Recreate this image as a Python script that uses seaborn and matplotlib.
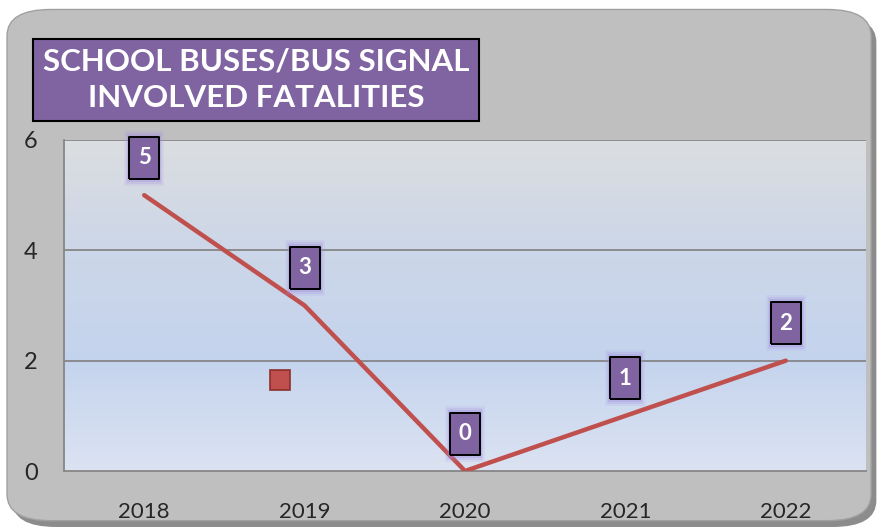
import numpy as np
import pandas as pd
import seaborn as sns
import matplotlib.pyplot as plt
from matplotlib.patches import FancyBboxPatch
from matplotlib.lines import Line2D
from matplotlib.transforms import ScaledTranslation

# chart data
years = ["2018", "2019", "2020", "2021", "2022"]
fatalities = [5, 3, 0, 1, 2]
y_ticks = [0, 2, 4, 6]
title = "SCHOOL BUSES/BUS SIGNAL\nINVOLVED FATALITIES"

df = pd.DataFrame({"Year": years, "Fatalities": fatalities})

sns.set_style("white")
plt.rcParams["font.family"] = ["Lato", "DejaVu Sans"]

fig = plt.figure(figsize=(8.79, 5.27), dpi=100)
fig.patch.set_facecolor("white")

# rounded gray chart area with a soft shadow
shadow = FancyBboxPatch((0.014, 0.0), 0.983, 0.97, boxstyle="round,pad=0,rounding_size=0.05",
                        transform=fig.transFigure, facecolor="#8c8c8c", edgecolor="none", zorder=-3)
panel = FancyBboxPatch((0.008, 0.012), 0.983, 0.97, boxstyle="round,pad=0,rounding_size=0.05",
                       transform=fig.transFigure, facecolor="#bfbfbf", edgecolor="#a0a0a0",
                       linewidth=1, zorder=-2)
fig.patches.extend([shadow, panel])

ax = fig.add_axes([64 / 879, 1 - 471 / 527, 802 / 879, 331 / 527])
ax.set_xlim(-0.5, len(years) - 0.5)
ax.set_ylim(0, 6)

# gradient plot-area fill
grad = np.array([[0.86, 0.87, 0.88], [0.80, 0.84, 0.91], [0.77, 0.83, 0.93], [0.86, 0.89, 0.95]])
t = np.linspace(0, 1, 200)
cols = np.stack([np.interp(t, np.linspace(0, 1, 4), grad[:, c]) for c in range(3)], axis=1)
ax.imshow(cols[:, None, :], extent=(-0.5, len(years) - 0.5, 0, 6), aspect="auto", zorder=0)

for v in y_ticks[1:]:
    ax.axhline(v, color="#868686", linewidth=1.3, zorder=1)

sns.lineplot(data=df, x="Year", y="Fatalities", ax=ax, color="#c0504d", linewidth=3.2,
             solid_capstyle="round", zorder=3, sort=False)

# data labels: tall purple boxes with a soft glow, shifted above each point
lift = ax.transData + ScaledTranslation(0, 27 / 72, fig.dpi_scale_trans)
box = [(-0.72, -1), (0.72, -1), (0.72, 1), (-0.72, 1), (-0.72, -1)]
x_pos = np.arange(len(years))
for size, alpha in [(40, 0.12), (37, 0.2), (34.5, 0.3)]:
    ax.plot(x_pos, fatalities, linestyle="none", marker=box, markersize=size, markerfacecolor="#a38ee0",
            markeredgewidth=0, alpha=alpha, transform=lift, zorder=4, clip_on=False)
ax.plot(x_pos, fatalities, linestyle="none", marker=box, markersize=30, markerfacecolor="#8064a2",
        markeredgecolor="black", markeredgewidth=1.4, transform=lift, zorder=5, clip_on=False)
for i, v in enumerate(fatalities):
    ax.text(i, v, str(v), transform=lift, ha="center", va="center", color="white",
            fontsize=16, fontweight="bold", zorder=6, clip_on=False)

ax.set_yticks(y_ticks)
ax.set_yticklabels([str(v) for v in y_ticks])
ax.set_xticks(range(len(years)))
ax.set_xticklabels(years)
ax.set_xticks(np.arange(-0.5, len(years)), minor=True)
ax.tick_params(axis="x", which="major", length=0, pad=22, labelsize=16)
ax.tick_params(axis="x", which="minor", length=7, width=1.2, color="#868686", direction="out")
ax.tick_params(axis="y", length=7, width=1.2, color="#868686", direction="out", pad=12, labelsize=17)
ax.set_xlabel("")
ax.set_ylabel("")
for side in ["top", "right"]:
    ax.spines[side].set_visible(False)
for side in ["left", "bottom"]:
    ax.spines[side].set_color("#868686")
    ax.spines[side].set_linewidth(1.3)

# stray legend key
key = Line2D([], [], marker="s", linestyle="none", markersize=14, markerfacecolor="#c0504d",
             markeredgecolor="#8c2f2c", markeredgewidth=1.2)
ax.legend([key], [""], loc="center", bbox_to_anchor=(280 / 879, 1 - 381 / 527),
          bbox_transform=fig.transFigure, frameon=False, handlelength=0.8, borderpad=0,
          handletextpad=0)

# title box
fig.text(256 / 879, 1 - 80 / 527, title, ha="center", va="center", color="white", fontsize=22.5,
         fontweight="bold", linespacing=1.35,
         bbox=dict(boxstyle="square,pad=0.3", facecolor="#8064a2", edgecolor="black", linewidth=1.5))

fig.savefig("out.png", dpi=100)
